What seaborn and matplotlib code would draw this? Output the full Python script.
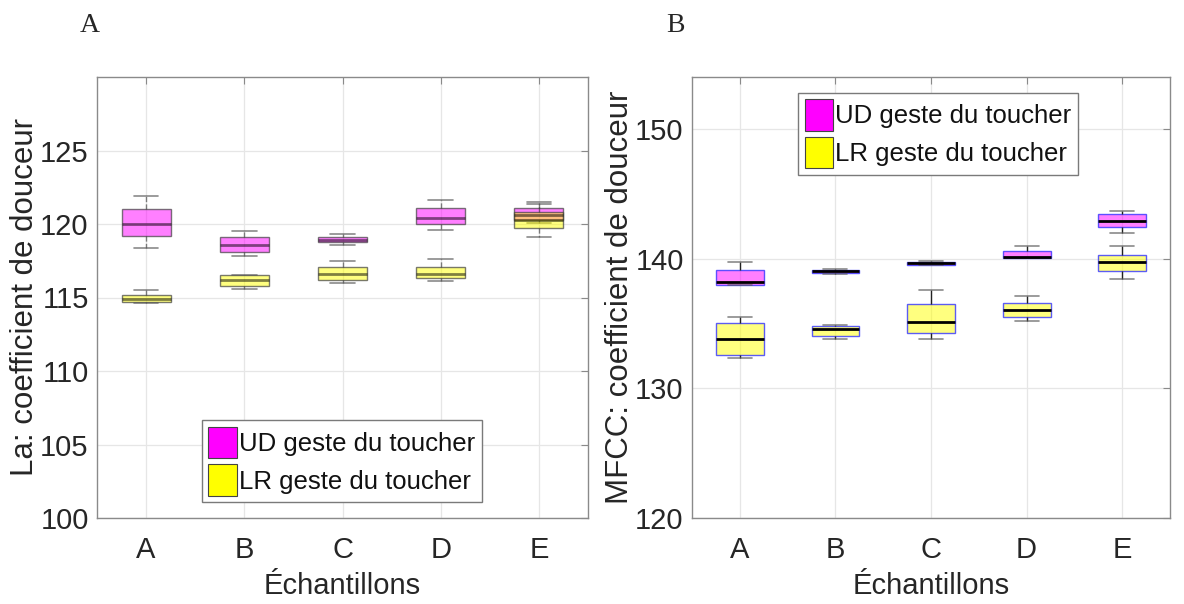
import numpy as np
import pandas as pd
import matplotlib
matplotlib.use("Agg")
import matplotlib.pyplot as plt
from matplotlib.patches import Patch
import seaborn as sns

# Samples and five-number summaries (min, Q1, median, Q3, max) per gesture
samples = ["A", "B", "C", "D", "E"]
gestures = ["UD", "LR"]

la_ud = [[118.4, 119.2, 120.0, 121.0, 121.9],
         [117.8, 118.1, 118.6, 119.1, 119.5],
         [118.6, 118.75, 118.9, 119.1, 119.3],
         [119.6, 120.0, 120.4, 121.1, 121.6],
         [120.1, 120.3, 120.6, 121.1, 121.5]]
la_lr = [[114.6, 114.7, 114.9, 115.2, 115.5],
         [115.6, 115.8, 116.2, 116.5, 116.55],
         [116.0, 116.2, 116.6, 117.1, 117.5],
         [116.1, 116.3, 116.6, 117.1, 117.6],
         [119.1, 119.7, 120.3, 120.8, 121.35]]

mfcc_ud = [[138.0, 138.0, 138.2, 139.1, 139.7],
           [138.8, 138.9, 139.05, 139.15, 139.2],
           [139.5, 139.5, 139.65, 139.74, 139.8],
           [140.05, 140.05, 140.15, 140.55, 141.0],
           [142.0, 142.4, 142.9, 143.4, 143.7]]
mfcc_lr = [[132.3, 132.6, 133.8, 135.0, 135.5],
           [133.8, 134.0, 134.6, 134.8, 134.85],
           [133.8, 134.3, 135.1, 136.5, 137.55],
           [135.2, 135.5, 136.0, 136.6, 137.1],
           [138.4, 139.05, 139.7, 140.3, 141.0]]

legend_labels = ["UD geste du toucher", "LR geste du toucher"]
colors = {"UD": "#FF00FF", "LR": "#FFFF00"}


def long_frame(ud, lr):
    rows = []
    for g, series in (("UD", ud), ("LR", lr)):
        for s, vals in zip(samples, series):
            for v in vals:
                rows.append({"sample": s, "geste": g, "value": v})
    return pd.DataFrame(rows)


sns.set_style("white")
plt.rcParams["font.family"] = ["Liberation Sans", "DejaVu Sans"]

fig = plt.figure(figsize=(11.84, 6.04), dpi=100)
ax1 = fig.add_axes([97 / 1184, 1 - 518 / 604, 491 / 1184, 441 / 604])
ax2 = fig.add_axes([692 / 1184, 1 - 518 / 604, 478 / 1184, 441 / 604])

tick_color = "#262626"
spine_color = "#8a8a8a"


def draw(ax, df, edge, median_color, whisker_color, whisker_style, ylim,
         yticks, ylabel, leg_loc, leg_anchor):
    sns.boxplot(data=df, x="sample", y="value", hue="geste", order=samples,
                hue_order=gestures, palette=colors, dodge=False, width=0.5,
                whis=(0, 100), saturation=1, legend=False, ax=ax,
                linewidth=1.0,
                boxprops=dict(edgecolor=edge),
                medianprops=dict(color=median_color, linewidth=2.0),
                whiskerprops=dict(color=whisker_color, linewidth=1.0,
                                  linestyle=whisker_style),
                capprops=dict(color=(0.35, 0.35, 0.35, 0.7), linewidth=1.2))
    for p in ax.patches:
        fc = p.get_facecolor()
        p.set_facecolor((fc[0], fc[1], fc[2], 0.5))
        p.set_edgecolor(edge)
    ax.set_xlim(-0.5, 4.5)
    ax.set_ylim(*ylim)
    ax.set_yticks(yticks)
    ax.grid(True, color="#e6e6e6", linewidth=0.9)
    ax.set_axisbelow(True)
    for sp in ax.spines.values():
        sp.set_color(spine_color)
        sp.set_linewidth(1.0)
    ax.tick_params(axis="both", which="major", direction="in", length=5,
                   width=0.8, color=spine_color, labelsize=21,
                   labelcolor=tick_color, top=True, right=True, pad=6)
    ax.tick_params(axis="x", pad=13)
    ax.set_xlabel("Échantillons", fontsize=21, color=tick_color, labelpad=6)
    ax.set_ylabel(ylabel, fontsize=22.5, color=tick_color, labelpad=0)
    handles = [Patch(facecolor=colors[g], edgecolor="#444444", linewidth=0.8)
               for g in gestures]
    leg = ax.legend(handles, legend_labels, loc=leg_loc,
                    bbox_to_anchor=leg_anchor, borderaxespad=0,
                    fontsize=18.5, frameon=True, fancybox=False,
                    edgecolor="#7a7a7a", framealpha=1, handlelength=1.1,
                    handleheight=1.5, handletextpad=0.1, borderpad=0.25,
                    labelspacing=0.25)
    leg.get_frame().set_linewidth(1.0)
    for t in leg.get_texts():
        t.set_color("#111111")


draw(ax1, long_frame(la_ud, la_lr), edge=(0.25, 0.25, 0.25, 0.7),
     median_color=(0, 0, 0, 0.5), whisker_color=(0.2, 0.2, 0.2, 0.6),
     whisker_style="--",
     ylim=(100, 130), yticks=[100, 105, 110, 115, 120, 125],
     ylabel="La: coefficient de douceur",
     leg_loc="lower left", leg_anchor=(0.214, 0.036))

draw(ax2, long_frame(mfcc_ud, mfcc_lr), edge=(0.2, 0.2, 1.0, 0.8),
     median_color="black", whisker_color="#222222", whisker_style="-",
     ylim=(120, 154), yticks=[120, 130, 140, 150],
     ylabel="MFCC: coefficient de douceur",
     leg_loc="upper left", leg_anchor=(0.222, 0.964))

fig.text(90 / 1184, 1 - 25 / 604, "A", fontsize=20, family="Liberation Serif",
         ha="center", va="center")
fig.text(675 / 1184, 1 - 25 / 604, "B", fontsize=20, family="Liberation Serif",
         ha="center", va="center")

fig.savefig("out.png", dpi=100)
